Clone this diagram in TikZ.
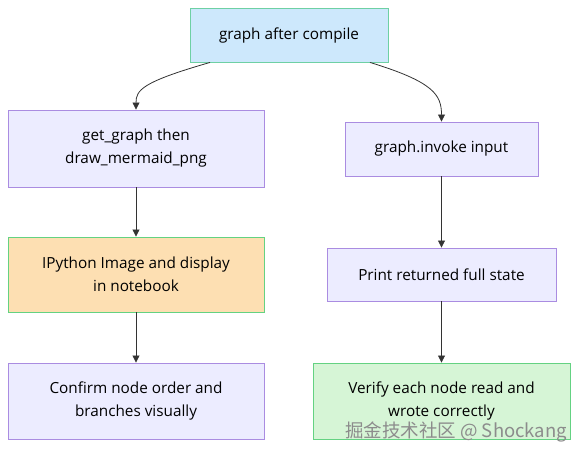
\documentclass[tikz,border=0pt]{standalone}
\usepackage{fontspec}
\setmainfont{Open Sans}
\newfontfamily\cjk{Noto Sans CJK SC}
\usetikzlibrary{arrows.meta}

\begin{document}
\begin{tikzpicture}[x=1pt,y=-1pt,
		box/.style={draw, line width=0.9pt, align=center, inner sep=0pt, font=\fontsize{15.3pt}{23pt}\selectfont},
		link/.style={draw=custcol_33_33_33, line width=0.8pt, -{Triangle[length=7pt,width=7pt]}}]
					\definecolor{custcol_cd_e8_fc}{RGB}{205, 232, 252}
					\definecolor{custcol_6e_d0_a4}{RGB}{110, 208, 164}
					\definecolor{custcol_ec_ec_ff}{RGB}{236, 236, 255}
					\definecolor{custcol_93_70_db}{RGB}{170, 140, 225}
					\definecolor{custcol_fd_df_b2}{RGB}{253, 223, 178}
					\definecolor{custcol_64_d2_82}{RGB}{100, 210, 130}
					\definecolor{custcol_d6_f5_d6}{RGB}{214, 245, 214}
					\definecolor{custcol_33_33_33}{RGB}{51, 51, 51}
					\definecolor{custcol_8c_8c_8c}{RGB}{140, 140, 140}
					\useasboundingbox [fill=white] (0,0) rectangle (586,454);
					% top node
					\node[box, fill=custcol_cd_e8_fc, draw=custcol_6e_d0_a4, minimum width=198pt, minimum height=54pt] (compile) at (289,35) {graph after compile};
					% left column
					\node[box, fill=custcol_ec_ec_ff, draw=custcol_93_70_db, minimum width=256pt, minimum height=77pt] (getgraph) at (136,148.5) {get\_graph then\\draw\_mermaid\_png};
					\node[box, fill=custcol_fd_df_b2, draw=custcol_64_d2_82, minimum width=256pt, minimum height=75pt] (display) at (136,274.5) {IPython Image and display\\in notebook};
					\node[box, fill=custcol_ec_ec_ff, draw=custcol_93_70_db, minimum width=256pt, minimum height=76pt] (confirm) at (136,401) {Confirm node order and\\branches visually};
					% right column
					\node[box, fill=custcol_ec_ec_ff, draw=custcol_93_70_db, minimum width=193pt, minimum height=54pt] (invoke) at (441.5,149) {graph.invoke input};
					\node[box, fill=custcol_ec_ec_ff, draw=custcol_93_70_db, minimum width=229pt, minimum height=53pt] (print) at (441.5,274.5) {Print returned full state};
					\node[box, fill=custcol_d6_f5_d6, draw=custcol_64_d2_82, minimum width=257pt, minimum height=76pt] (verify) at (441.5,401) {Verify each node read and\\wrote correctly};
					% connectors
					\draw[link] ([xshift=-79pt]compile.south) .. controls (142,82) and (136,90) .. (getgraph.north);
					\draw[link] ([xshift=81pt]compile.south) .. controls (434,82) and (441.5,95) .. (invoke.north);
					\draw[link] (getgraph) -- (display);
					\draw[link] (display) -- (confirm);
					\draw[link] (invoke) -- (print);
					\draw[link] (print) -- (verify);
					% watermark
					\node[inner sep=0pt, anchor=base west, custcol_8c_8c_8c, font=\cjk\fontsize{18.5pt}{18.5pt}\selectfont] (mark) at (345,437) {掘金技术社区 @ Shockang};
				\end{tikzpicture}
\end{document}
